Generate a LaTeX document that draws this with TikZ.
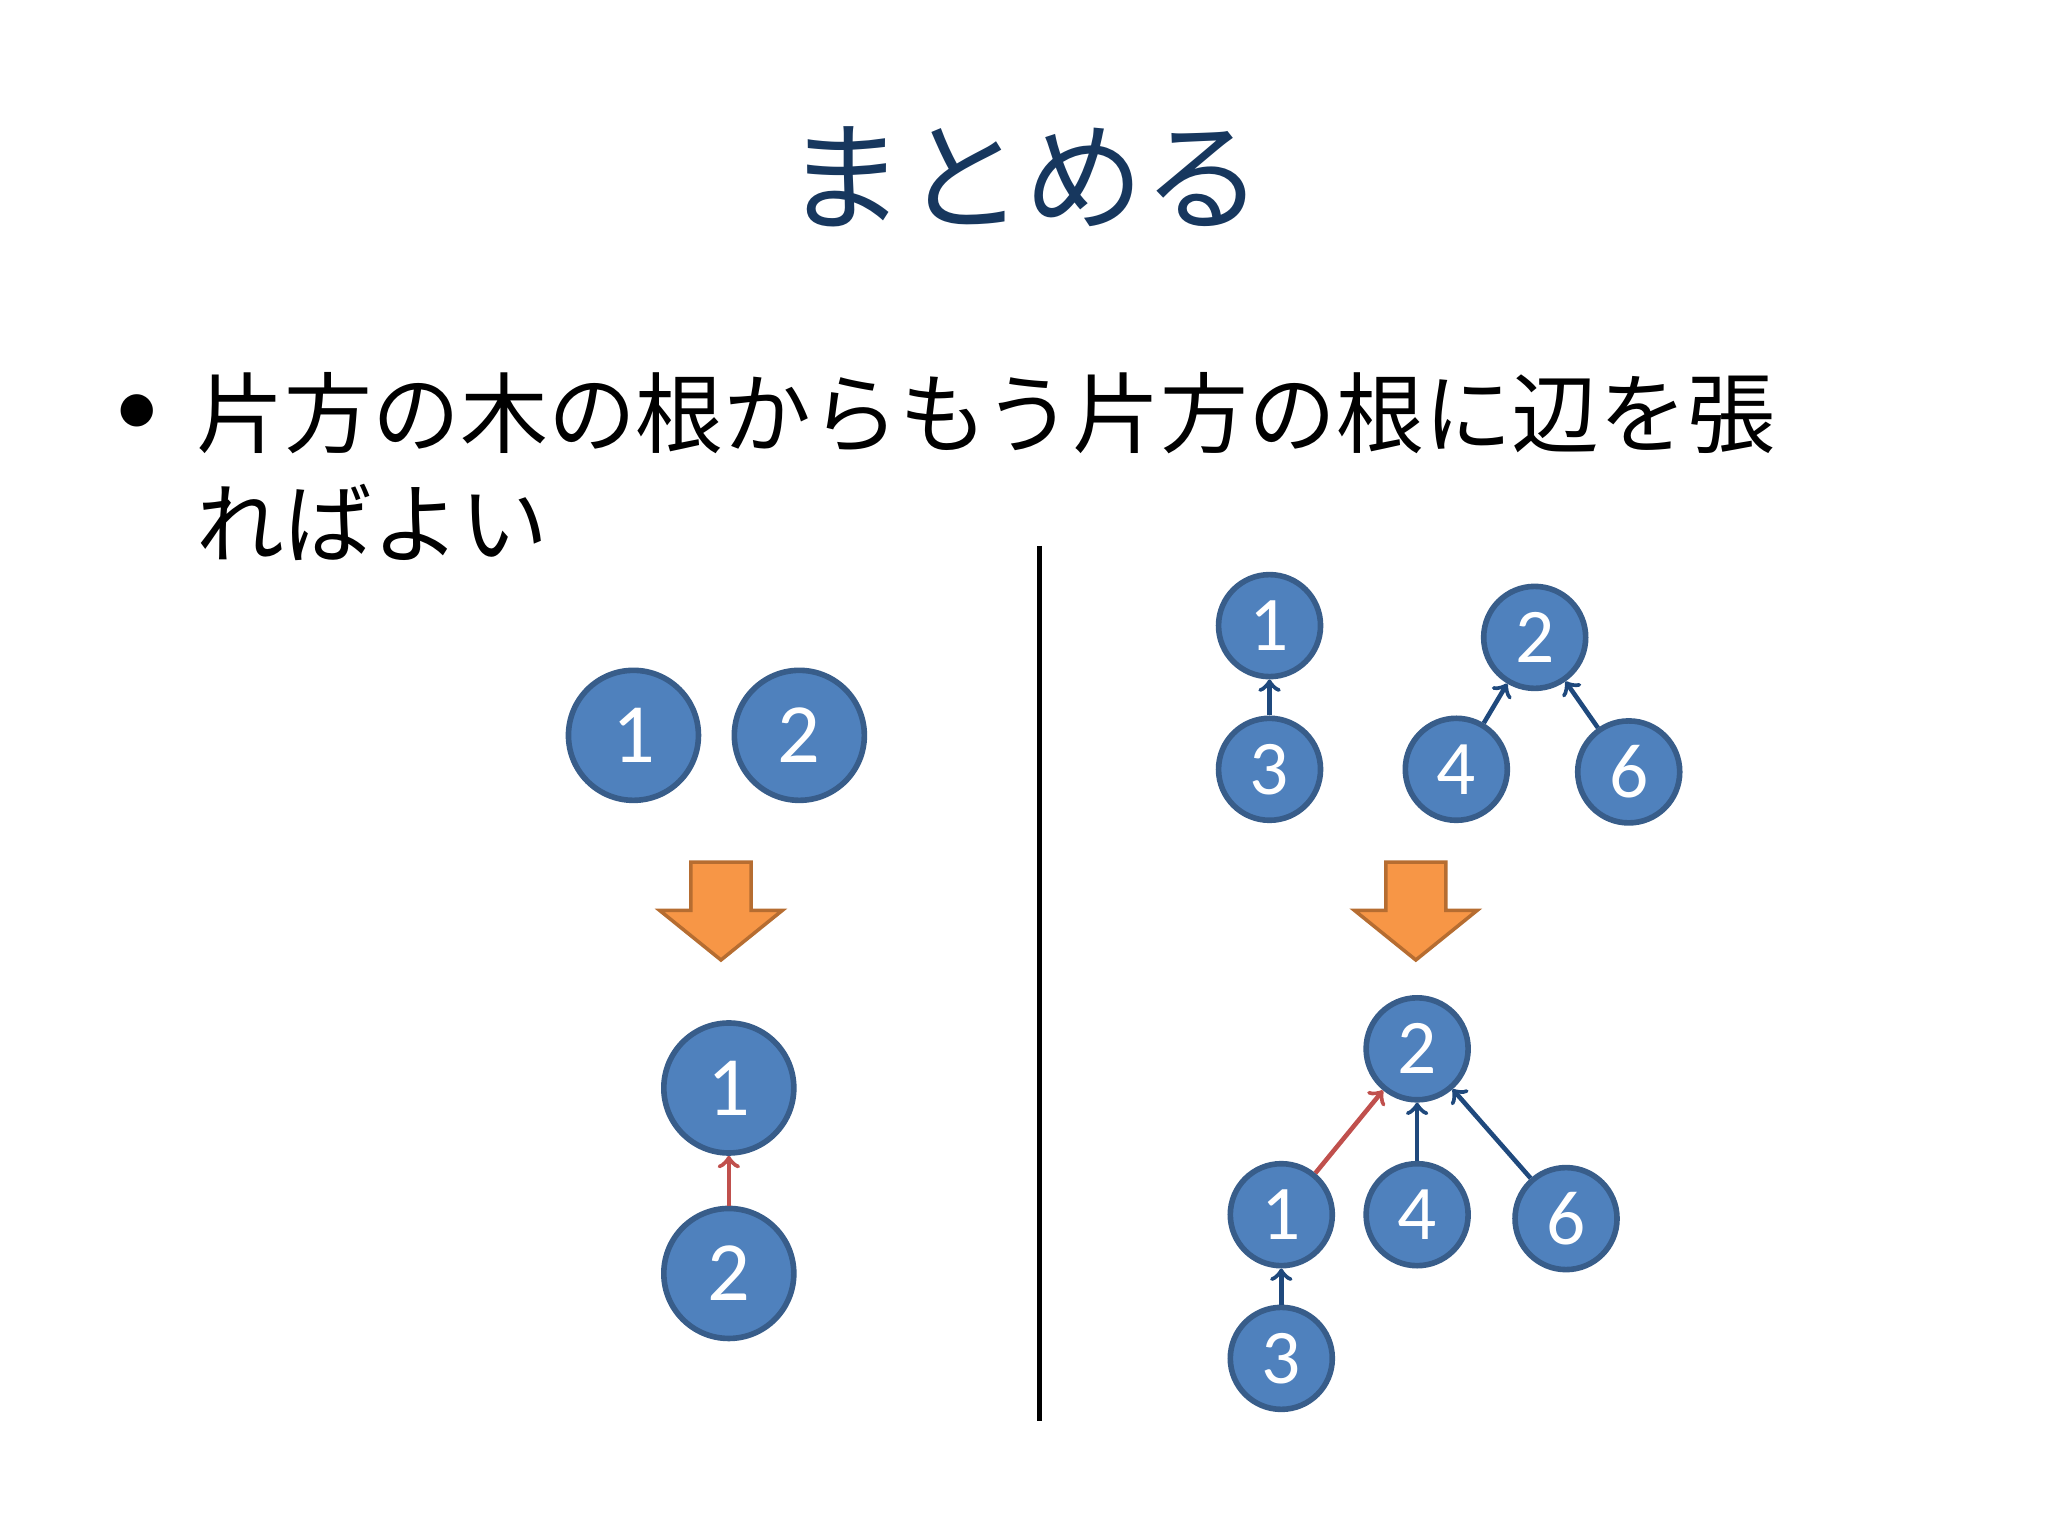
\documentclass[tikz,border=0pt]{standalone}
\usepackage{fontspec}
\setmainfont{Carlito}
\newfontfamily\jp{Noto Sans CJK JP}
\usetikzlibrary{arrows}
\definecolor{nodefill}{HTML}{4F81BD}
\definecolor{nodeline}{HTML}{385D8A}
\definecolor{edgeblue}{HTML}{1F497D}
\definecolor{edgered}{HTML}{C0504D}
\definecolor{titleblue}{HTML}{17375E}
\definecolor{arrowfill}{HTML}{F79646}
\definecolor{arrowline}{HTML}{B66D31}
\tikzset{
  big/.style={circle, draw=nodeline, fill=nodefill, line width=1.6pt, minimum size=1.3cm, inner sep=0pt, text=white, font=\fontsize{24}{24}\selectfont},
  small/.style={big, minimum size=1.02cm, font=\fontsize{22}{22}\selectfont},
  tree/.style={->, >=to, line width=1.3pt, draw=edgeblue},
  merge/.style={tree, draw=edgered}
}
\newcommand{\steparrow}[1]{%
  \draw[fill=arrowfill, draw=arrowline, line width=1pt]
  (#1-23,660) -- (#1+23,660) -- (#1+23,697) -- (#1+47,697) -- (#1,735)
  -- (#1-47,697) -- (#1-23,697) -- cycle;}
\begin{document}
\begin{tikzpicture}[x=0.01306cm, y=-0.01306cm]
\useasboundingbox (0,0) rectangle (1568,1176);

\node[text=titleblue, font=\jp\fontsize{34}{34}\selectfont] (title) at (784,135) {まとめる};
\node[font=\fontsize{26}{26}\selectfont] (dot) at (105,318) {•};
\node[anchor=west, font=\jp\fontsize{25}{25}\selectfont, inner sep=0pt] (line1) at (150,316)
{片方の木の根からもう片方の根に辺を張};
\node[anchor=west, font=\jp\fontsize{25}{25}\selectfont, inner sep=0pt] (line2) at (150,400)
{ればよい};

\draw[line width=1.5pt] (796,418) -- (796,1088);

% left
\node[big] (a1) at (485,563) {1};
\node[big] (a2) at (612,563) {2};
\steparrow{552}
\node[big] (b1) at (558,833) {1};
\node[big] (b2) at (558,975) {2};
\draw[merge] (b2) -- (b1);

% right, before
\node[small] (c1) at (972,479) {1};
\node[small] (c3) at (972,589) {3};
\node[small] (c2) at (1175,488) {2};
\node[small] (c4) at (1115,589) {4};
\node[small] (c6) at (1247,591) {6};
\draw[tree] (c3) -- (c1);
\draw[tree] (c4) -- (c2);
\draw[tree] (c6) -- (c2);

\steparrow{1084}

% right, after
\node[small] (d2) at (1085,803) {2};
\node[small] (d1) at (981,930) {1};
\node[small] (d4) at (1085,930) {4};
\node[small] (d6) at (1199,933) {6};
\node[small] (d3) at (981,1040) {3};
\draw[merge] (d1) -- (d2);
\draw[tree] (d4) -- (d2);
\draw[tree] (d6) -- (d2);
\draw[tree] (d3) -- (d1);
\end{tikzpicture}
\end{document}
